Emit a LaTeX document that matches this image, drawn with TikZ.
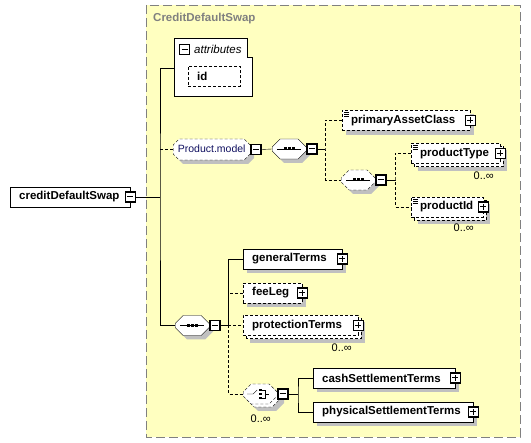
\documentclass[tikz,border=0pt]{standalone}
\usepackage{fontspec}
\setmainfont{Liberation Sans}
\usetikzlibrary{positioning,shapes.misc}

\definecolor{frameyellow}{RGB}{255,255,192}
\definecolor{framegray}{RGB}{128,128,128}
\definecolor{shadowgray}{RGB}{192,192,192}
\definecolor{modelblue}{RGB}{16,16,96}

\pgfdeclarelayer{back}
\pgfdeclarelayer{shade}
\pgfsetlayers{back,shade,main}

\begin{document}
\begin{tikzpicture}[
    x=1pt, y=-1pt, line width=1pt,
    box/.style={draw, fill=white, anchor=west, minimum height=20pt, inner xsep=9pt, inner ysep=0pt, align=left, font=\fontsize{11.5}{13}\selectfont\bfseries},
    opt/.style={dash pattern=on 3pt off 2pt},
    elem/.style={box},
    optelem/.style={box, opt},
    simple/.style={path picture={\foreach \k in {2,4,6} \draw[solid, black, line width=0.7pt] ([shift={(2pt,-\k pt)}]path picture bounding box.north west) -- ++(5pt,0pt);}},
    octo/.style={chamfered rectangle, chamfered rectangle xsep=4pt, chamfered rectangle ysep=4pt, draw, fill=white, anchor=west,
        text width=26pt, text height=12pt, text depth=0pt, minimum width=34pt, minimum height=20pt, inner sep=0pt},
    model/.style={octo, opt, text width=70pt, text height=8pt, text depth=2pt, align=center, minimum width=77pt, minimum height=21pt,
        chamfered rectangle xsep=3pt, chamfered rectangle ysep=3pt},
    seqsym/.style={path picture={
        \draw[solid, black] ([xshift=-12pt]path picture bounding box.center) -- ([xshift=12pt]path picture bounding box.center);
        \foreach \dx in {-4,0,4} \fill[black] ([xshift=\dx pt]path picture bounding box.center) +(-1.5pt,-1.5pt) rectangle +(1.5pt,1.5pt);}},
    choicesym/.style={path picture={
        \draw[solid, black] ([xshift=-13pt]path picture bounding box.center) -- ++(6pt,0pt) -- ++(4pt,4pt);
        \foreach \dy in {-4,0,4} \fill[black] ([yshift=\dy pt]path picture bounding box.center) +(-1.3pt,-1.3pt) rectangle +(1.3pt,1.3pt);
        \draw[solid, black] ([shift={(2pt,4pt)}]path picture bounding box.center) -- ++(3pt,0pt) -- ++(0pt,-8pt) -- ++(-3pt,0pt)
            ([xshift=5pt]path picture bounding box.center) -- ++(4pt,0pt);}},
    sign/.style={draw, fill=white, minimum size=10pt, inner sep=0pt, line width=1.2pt},
    plus/.style={sign, path picture={\draw[black, line width=1pt] ([xshift=-3pt]path picture bounding box.center) -- ([xshift=3pt]path picture bounding box.center) ([yshift=-3pt]path picture bounding box.center) -- ([yshift=3pt]path picture bounding box.center);}},
    minus/.style={sign, path picture={\draw[black, line width=1pt] ([xshift=-3pt]path picture bounding box.center) -- ([xshift=3pt]path picture bounding box.center);}},
    card/.style={anchor=north east, inner sep=0pt, font=\fontsize{11}{12}\selectfont}
  ]
  \useasboundingbox (0,0) rectangle (531,443);

  % complex type frame
  \begin{pgfonlayer}{back}
    \draw[framegray, fill=frameyellow, dash pattern=on 9pt off 4pt] (146,5) rectangle (520,437);
  \end{pgfonlayer}
  \node[anchor=west, inner sep=0pt, text=framegray, font=\fontsize{11.5}{13}\selectfont\bfseries] (title) at (153,19) {CreditDefaultSwap};

  % attributes
  \draw[fill=white] (174,38) -- (247,38) -- (247,57) -- (252,57) -- (252,96) -- (174,96) -- cycle;
  \coordinate (attrw) at (174,68);
  \node[minus] (attrm) at (184.5,49.5) {};
  \node[anchor=west, inner sep=0pt, font=\fontsize{11.5}{13}\selectfont\itshape] (attrt) at (194,49) {attributes};
  \node[optelem, text width=34pt] (idb) at (188,76.5) {id};

  % root element
  \node[box, text width=102pt] (cds) at (10,197) {creditDefaultSwap};
  \node[minus] (cdsm) at (cds.east) {};
  \coordinate (trunk) at (160,197);

  % Product.model group
  \node[model, font=\fontsize{10.5}{12}\selectfont, text=modelblue] (pm) at (173,149.5) {Product.model};
  \node[minus, anchor=west] (pmm) at (pm.east) {};
  \node[octo, seqsym] (seq1) at (272,149) {};
  \node[minus, anchor=west] (seq1m) at (seq1.east) {};
  \coordinate (b1) at (325,149);
  \node[optelem, simple, text width=110pt] (pac) at (342,120.5) {primaryAssetClass};
  \node[plus] (pacp) at (pac.east) {};
  \node[octo, opt, seqsym] (seq2) at (341,180) {};
  \node[minus, anchor=west] (seq2m) at (seq2.east) {};
  \coordinate (b2) at (395,180);
  \node[optelem, simple, text width=71pt] (ptype) at (411,153.5) {productType};
  \node[plus] (ptypep) at (ptype.east) {};
  \node[card] (ptypec) at (494,172) {0..∞};
  \node[optelem, simple, text width=54pt] (pid) at (411,207) {productId};
  \node[plus] (pidp) at (pid.east) {};
  \node[card] (pidc) at (474,224) {0..∞};

  % main sequence
  \node[octo, seqsym] (seq3) at (175,325.5) {};
  \node[minus, anchor=west] (seq3m) at (seq3.east) {};
  \coordinate (b3) at (228,325.5);
  \node[elem, text width=81pt] (gt) at (243,259) {generalTerms};
  \node[plus] (gtp) at (gt.east) {};
  \node[optelem, text width=41pt] (fee) at (243,293) {feeLeg};
  \node[plus] (feep) at (fee.east) {};
  \node[optelem, text width=97pt] (prot) at (243,325.5) {protectionTerms};
  \node[plus] (protp) at (prot.east) {};
  \node[card] (protc) at (352,344) {0..∞};

  % settlement choice
  \node[octo, opt, choicesym] (ch) at (243,394) {};
  \node[minus, anchor=west] (chm) at (ch.east) {};
  \node[card] (chc) at (271,415) {0..∞};
  \coordinate (b4) at (298,394);
  \node[elem, text width=124pt] (cst) at (313,378) {cashSettlementTerms};
  \node[plus] (cstp) at (cst.east) {};
  \node[elem, text width=142pt] (pst) at (313,412) {physicalSettlementTerms};
  \node[plus] (pstp) at (pst.east) {};

  % shadows and repeated copies
  \begin{pgfonlayer}{shade}
    \foreach \n in {idb,pac,gt,fee,cst,pst}
      \fill[shadowgray] ([shift={(4pt,-4pt)}]\n.south west) rectangle ([shift={(4pt,-4pt)}]\n.north east);
    \foreach \n in {ptype,pid,prot} {
      \fill[shadowgray] ([shift={(7pt,-7pt)}]\n.south west) rectangle ([shift={(7pt,-7pt)}]\n.north east);
      \draw[opt, fill=white] ([shift={(3pt,-3pt)}]\n.south west) rectangle ([shift={(3pt,-3pt)}]\n.north east);
    }
    \foreach \n in {seq1,seq2,seq3}
      \node[octo, anchor=center, draw=none, fill=shadowgray] at ([shift={(4pt,-4pt)}]\n.center) {};
    \node[model, anchor=center, draw=none, fill=shadowgray] at ([shift={(4pt,-4pt)}]pm.center) {};
    \node[octo, anchor=center, draw=none, fill=shadowgray] at ([shift={(7pt,-7pt)}]ch.center) {};
    \node[octo, opt, anchor=center] at ([shift={(3pt,-3pt)}]ch.center) {};
  \end{pgfonlayer}

  % connectors
  \draw (cdsm.east) -- (trunk);
  \draw (attrw) -| (trunk) |- (seq3.west);
  \draw[opt] (pm.west) -- (pm.west -| trunk);
  \draw (pmm.east) -- (seq1.west);
  \draw (seq1m.east) -- (b1);
  \draw[opt] (pac.west) -| (b1) |- (seq2.west);
  \draw (seq2m.east) -- (b2);
  \draw[opt] (ptype.west) -| (b2) |- (pid.west);
  \draw (seq3m.east) -- (b3);
  \draw (gt.west) -| (b3);
  \draw[opt] (fee.west) -- (fee.west -| b3);
  \draw[opt] (b3) -- (prot.west);
  \draw[opt] (b3) |- (ch.west);
  \draw (chm.east) -- (b4);
  \draw (cst.west) -| (b4) |- (pst.west);
\end{tikzpicture}
\end{document}
